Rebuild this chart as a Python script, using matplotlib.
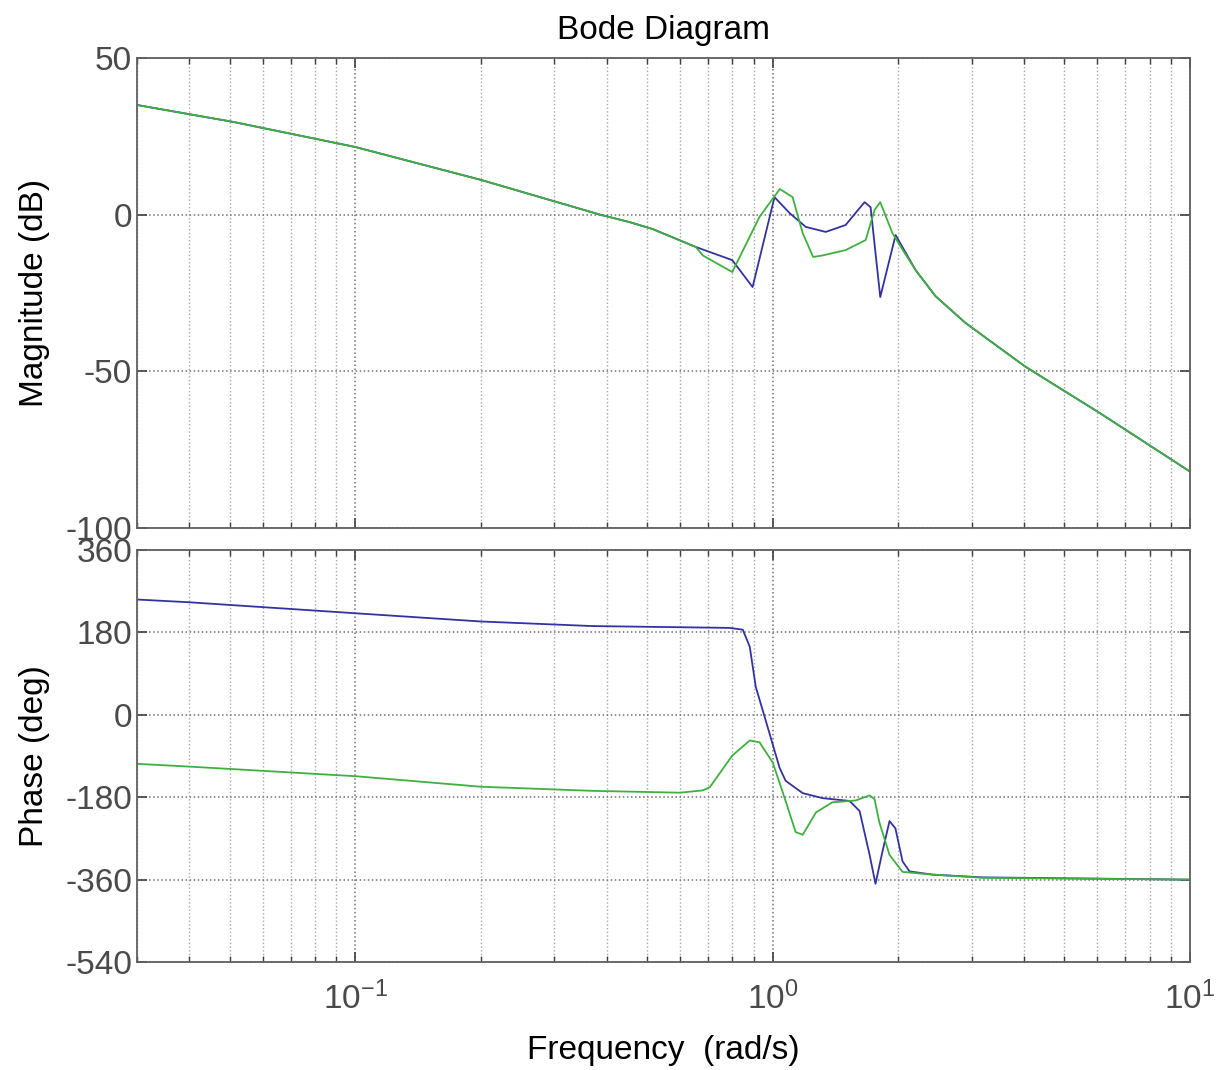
import matplotlib
matplotlib.use("Agg")
import matplotlib.pyplot as plt
from matplotlib.ticker import LogLocator, NullFormatter, FixedLocator

plt.rcParams['font.family'] = ['Liberation Sans', 'DejaVu Sans']
plt.rcParams['mathtext.default'] = 'regular'
plt.rcParams['axes.unicode_minus'] = False

# magnitude (dB), blue curve
w_mag1 = [0.03, 0.051, 0.1, 0.2, 0.386, 0.455, 0.516, 0.654, 0.80, 0.895, 1.01,
          1.098, 1.2, 1.34, 1.495, 1.66, 1.716, 1.81, 1.97, 2.2, 2.455, 2.9,
          4.03, 6.06, 10]
mag1 = [35.0, 29.6, 21.6, 11.1, 0.0, -2.4, -4.6, -10.3, -14.5, -23.1, 5.6,
        0.5, -3.9, -5.5, -3.3, 4.0, 2.4, -26.3, -6.5, -17.7, -26.0, -34.6,
        -48.5, -63.2, -82.0]

# magnitude (dB), green curve
w_mag2 = [0.03, 0.051, 0.1, 0.2, 0.386, 0.455, 0.516, 0.654, 0.68, 0.80, 0.93,
          1.04, 1.116, 1.18, 1.25, 1.318, 1.495, 1.67, 1.754, 1.81, 1.936, 2.05,
          2.2, 2.455, 2.9, 4.03, 6.06, 10]
mag2 = [35.0, 29.6, 21.6, 11.1, 0.0, -2.4, -4.6, -10.3, -13.0, -18.3, -0.7,
        8.2, 5.6, -5.9, -13.5, -13.0, -11.3, -8.1, 1.5, 4.0, -5.9, -11.3,
        -17.7, -26.0, -34.6, -48.5, -63.2, -82.0]

# phase (deg), blue curve
w_ph1 = [0.03, 0.04, 0.1, 0.2, 0.37, 0.79, 0.848, 0.881, 0.911, 0.983, 1.039,
         1.074, 1.18, 1.318, 1.528, 1.615, 1.706, 1.763, 1.833, 1.905, 1.968,
         2.047, 2.127, 2.414, 3.18, 10]
ph1 = [252, 246, 222, 204, 194, 190, 186, 149, 61, -41, -116,
       -144, -171, -182, -188, -210, -305, -369, -298, -232, -248,
       -320, -342, -349, -355, -360]

# phase (deg), green curve
w_ph2 = [0.03, 0.04, 0.1, 0.2, 0.37, 0.6, 0.68, 0.707, 0.80, 0.881, 0.93,
         1.0, 1.057, 1.135, 1.18, 1.27, 1.39, 1.58, 1.706, 1.754, 1.80,
         1.905, 2.047, 2.41, 3.18, 10]
ph2 = [-107, -113, -134, -157, -166, -170, -165, -158, -89, -56, -60,
       -104, -169, -256, -262, -213, -191, -187, -176, -184, -234,
       -306, -343, -349, -356, -360]

mag_ticks = [-100, -50, 0, 50]
ph_ticks = [-540, -360, -180, 0, 180, 360]

blue = '#3333a0'
green = '#3fb040'
fs = 24

fig = plt.figure(figsize=(12.16, 10.7), dpi=100)
ax1 = fig.add_axes([0.1127, 0.5065, 0.866, 0.4393])
ax2 = fig.add_axes([0.1127, 0.1009, 0.866, 0.385])

ax1.plot(w_mag1, mag1, color=blue, lw=1.3)
ax1.plot(w_mag2, mag2, color=green, lw=1.3)
ax2.plot(w_ph1, ph1, color=blue, lw=1.3)
ax2.plot(w_ph2, ph2, color=green, lw=1.3)

for ax, ticks in [(ax1, mag_ticks), (ax2, ph_ticks)]:
    ax.set_xscale('log')
    ax.set_xlim(0.03, 10)
    ax.set_ylim(ticks[0], ticks[-1])
    ax.yaxis.set_major_locator(FixedLocator(ticks))
    ax.xaxis.set_major_locator(LogLocator(base=10))
    ax.xaxis.set_minor_locator(LogLocator(base=10, subs=range(2, 10)))
    ax.xaxis.set_minor_formatter(NullFormatter())
    ax.grid(True, which='major', linestyle=':', color='#707070', lw=1.1)
    ax.grid(True, which='minor', axis='x', linestyle=':', color='#a8a8a8', lw=1.0)
    ax.tick_params(which='both', direction='in', top=True, right=True,
                   labelsize=fs, labelcolor='#4a4a4a', color='#404040')
    ax.tick_params(which='major', length=7, width=1.2)
    ax.tick_params(which='minor', length=4, width=1.0)
    for s in ax.spines.values():
        s.set_color('#606060')
        s.set_linewidth(1.3)

ax1.tick_params(labelbottom=False)
ax2.tick_params(axis='x', which='major', pad=14)
ax1.set_title('Bode Diagram', fontsize=fs, pad=14)
ax1.set_ylabel('Magnitude (dB)', fontsize=fs)
ax2.set_ylabel('Phase (deg)', fontsize=fs)
ax1.yaxis.set_label_coords(-0.083, 0.5)
ax2.yaxis.set_label_coords(-0.083, 0.5)
ax2.set_xlabel('Frequency  (rad/s)', fontsize=fs, labelpad=14)

fig.savefig('out.png', dpi=100)
